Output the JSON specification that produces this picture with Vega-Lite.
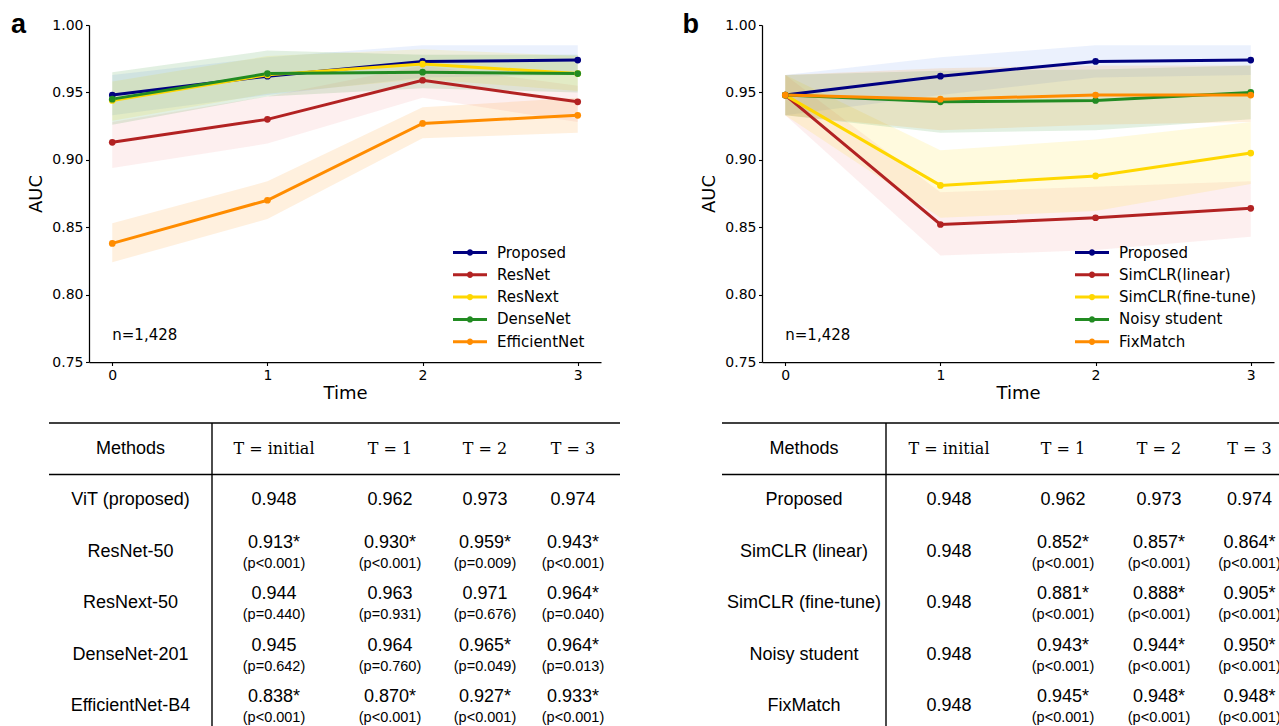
{
  "$schema": "https://vega.github.io/schema/vega-lite/v6.json",
  "padding": {"left": 0, "top": 11, "right": 0, "bottom": 0},
  "config": {
    "view": {"stroke": null},
    "font": "Liberation Sans",
    "text": {"color": "black"},
    "axis": {"labelFont": "DejaVu Sans", "labelFontSize": 14, "labelColor": "black", "titleFont": "DejaVu Sans", "titleFontSize": 18, "titleFontWeight": "normal", "titleColor": "black", "domainColor": "black", "tickColor": "black", "grid": false, "tickSize": 3.5, "domainWidth": 1.25, "tickWidth": 1.1, "labelPadding": 2.5}
  },
  "datasets": {
    "pa": [
      {"m": "Proposed", "t": 0, "auc": 0.948, "lo": 0.933, "hi": 0.963},
      {"m": "Proposed", "t": 1, "auc": 0.962, "lo": 0.948, "hi": 0.976},
      {"m": "Proposed", "t": 2, "auc": 0.973, "lo": 0.961, "hi": 0.985},
      {"m": "Proposed", "t": 3, "auc": 0.974, "lo": 0.963, "hi": 0.985},
      {"m": "ResNet", "t": 0, "auc": 0.913, "lo": 0.894, "hi": 0.928},
      {"m": "ResNet", "t": 1, "auc": 0.930, "lo": 0.912, "hi": 0.947},
      {"m": "ResNet", "t": 2, "auc": 0.959, "lo": 0.946, "hi": 0.970},
      {"m": "ResNet", "t": 3, "auc": 0.943, "lo": 0.928, "hi": 0.955},
      {"m": "ResNext", "t": 0, "auc": 0.944, "lo": 0.929, "hi": 0.958},
      {"m": "ResNext", "t": 1, "auc": 0.963, "lo": 0.949, "hi": 0.977},
      {"m": "ResNext", "t": 2, "auc": 0.971, "lo": 0.960, "hi": 0.982},
      {"m": "ResNext", "t": 3, "auc": 0.964, "lo": 0.951, "hi": 0.977},
      {"m": "DenseNet", "t": 0, "auc": 0.945, "lo": 0.926, "hi": 0.965},
      {"m": "DenseNet", "t": 1, "auc": 0.964, "lo": 0.947, "hi": 0.981},
      {"m": "DenseNet", "t": 2, "auc": 0.965, "lo": 0.953, "hi": 0.978},
      {"m": "DenseNet", "t": 3, "auc": 0.964, "lo": 0.950, "hi": 0.978},
      {"m": "EfficientNet", "t": 0, "auc": 0.838, "lo": 0.824, "hi": 0.853},
      {"m": "EfficientNet", "t": 1, "auc": 0.870, "lo": 0.856, "hi": 0.884},
      {"m": "EfficientNet", "t": 2, "auc": 0.927, "lo": 0.916, "hi": 0.939},
      {"m": "EfficientNet", "t": 3, "auc": 0.933, "lo": 0.920, "hi": 0.946}
    ],
    "pb": [
      {"m": "Proposed", "t": 0, "auc": 0.948, "lo": 0.933, "hi": 0.963},
      {"m": "Proposed", "t": 1, "auc": 0.962, "lo": 0.948, "hi": 0.976},
      {"m": "Proposed", "t": 2, "auc": 0.973, "lo": 0.961, "hi": 0.985},
      {"m": "Proposed", "t": 3, "auc": 0.974, "lo": 0.963, "hi": 0.985},
      {"m": "SimCLR(linear)", "t": 0, "auc": 0.948, "lo": 0.933, "hi": 0.963},
      {"m": "SimCLR(linear)", "t": 1, "auc": 0.852, "lo": 0.829, "hi": 0.876},
      {"m": "SimCLR(linear)", "t": 2, "auc": 0.857, "lo": 0.833, "hi": 0.880},
      {"m": "SimCLR(linear)", "t": 3, "auc": 0.864, "lo": 0.843, "hi": 0.884},
      {"m": "SimCLR(fine-tune)", "t": 0, "auc": 0.948, "lo": 0.933, "hi": 0.963},
      {"m": "SimCLR(fine-tune)", "t": 1, "auc": 0.881, "lo": 0.857, "hi": 0.907},
      {"m": "SimCLR(fine-tune)", "t": 2, "auc": 0.888, "lo": 0.862, "hi": 0.915},
      {"m": "SimCLR(fine-tune)", "t": 3, "auc": 0.905, "lo": 0.882, "hi": 0.928},
      {"m": "Noisy student", "t": 0, "auc": 0.948, "lo": 0.933, "hi": 0.963},
      {"m": "Noisy student", "t": 1, "auc": 0.943, "lo": 0.920, "hi": 0.966},
      {"m": "Noisy student", "t": 2, "auc": 0.944, "lo": 0.922, "hi": 0.967},
      {"m": "Noisy student", "t": 3, "auc": 0.950, "lo": 0.930, "hi": 0.970},
      {"m": "FixMatch", "t": 0, "auc": 0.948, "lo": 0.933, "hi": 0.963},
      {"m": "FixMatch", "t": 1, "auc": 0.945, "lo": 0.922, "hi": 0.968},
      {"m": "FixMatch", "t": 2, "auc": 0.948, "lo": 0.926, "hi": 0.970},
      {"m": "FixMatch", "t": 3, "auc": 0.948, "lo": 0.928, "hi": 0.970}
    ],
    "ta": [
      {"r": "Methods", "c": "T = initial", "v": "T = initial", "p": ""},
      {"r": "Methods", "c": "T = 1", "v": "T = 1", "p": ""},
      {"r": "Methods", "c": "T = 2", "v": "T = 2", "p": ""},
      {"r": "Methods", "c": "T = 3", "v": "T = 3", "p": ""},
      {"r": "ViT (proposed)", "c": "T = initial", "v": "0.948", "p": ""},
      {"r": "ViT (proposed)", "c": "T = 1", "v": "0.962", "p": ""},
      {"r": "ViT (proposed)", "c": "T = 2", "v": "0.973", "p": ""},
      {"r": "ViT (proposed)", "c": "T = 3", "v": "0.974", "p": ""},
      {"r": "ResNet-50", "c": "T = initial", "v": "0.913*", "p": "(p<0.001)"},
      {"r": "ResNet-50", "c": "T = 1", "v": "0.930*", "p": "(p<0.001)"},
      {"r": "ResNet-50", "c": "T = 2", "v": "0.959*", "p": "(p=0.009)"},
      {"r": "ResNet-50", "c": "T = 3", "v": "0.943*", "p": "(p<0.001)"},
      {"r": "ResNext-50", "c": "T = initial", "v": "0.944", "p": "(p=0.440)"},
      {"r": "ResNext-50", "c": "T = 1", "v": "0.963", "p": "(p=0.931)"},
      {"r": "ResNext-50", "c": "T = 2", "v": "0.971", "p": "(p=0.676)"},
      {"r": "ResNext-50", "c": "T = 3", "v": "0.964*", "p": "(p=0.040)"},
      {"r": "DenseNet-201", "c": "T = initial", "v": "0.945", "p": "(p=0.642)"},
      {"r": "DenseNet-201", "c": "T = 1", "v": "0.964", "p": "(p=0.760)"},
      {"r": "DenseNet-201", "c": "T = 2", "v": "0.965*", "p": "(p=0.049)"},
      {"r": "DenseNet-201", "c": "T = 3", "v": "0.964*", "p": "(p=0.013)"},
      {"r": "EfficientNet-B4", "c": "T = initial", "v": "0.838*", "p": "(p<0.001)"},
      {"r": "EfficientNet-B4", "c": "T = 1", "v": "0.870*", "p": "(p<0.001)"},
      {"r": "EfficientNet-B4", "c": "T = 2", "v": "0.927*", "p": "(p<0.001)"},
      {"r": "EfficientNet-B4", "c": "T = 3", "v": "0.933*", "p": "(p<0.001)"}
    ],
    "tb": [
      {"r": "Methods", "c": "T = initial", "v": "T = initial", "p": ""},
      {"r": "Methods", "c": "T = 1", "v": "T = 1", "p": ""},
      {"r": "Methods", "c": "T = 2", "v": "T = 2", "p": ""},
      {"r": "Methods", "c": "T = 3", "v": "T = 3", "p": ""},
      {"r": "Proposed", "c": "T = initial", "v": "0.948", "p": ""},
      {"r": "Proposed", "c": "T = 1", "v": "0.962", "p": ""},
      {"r": "Proposed", "c": "T = 2", "v": "0.973", "p": ""},
      {"r": "Proposed", "c": "T = 3", "v": "0.974", "p": ""},
      {"r": "SimCLR (linear)", "c": "T = initial", "v": "0.948", "p": ""},
      {"r": "SimCLR (linear)", "c": "T = 1", "v": "0.852*", "p": "(p<0.001)"},
      {"r": "SimCLR (linear)", "c": "T = 2", "v": "0.857*", "p": "(p<0.001)"},
      {"r": "SimCLR (linear)", "c": "T = 3", "v": "0.864*", "p": "(p<0.001)"},
      {"r": "SimCLR (fine-tune)", "c": "T = initial", "v": "0.948", "p": ""},
      {"r": "SimCLR (fine-tune)", "c": "T = 1", "v": "0.881*", "p": "(p<0.001)"},
      {"r": "SimCLR (fine-tune)", "c": "T = 2", "v": "0.888*", "p": "(p<0.001)"},
      {"r": "SimCLR (fine-tune)", "c": "T = 3", "v": "0.905*", "p": "(p<0.001)"},
      {"r": "Noisy student", "c": "T = initial", "v": "0.948", "p": ""},
      {"r": "Noisy student", "c": "T = 1", "v": "0.943*", "p": "(p<0.001)"},
      {"r": "Noisy student", "c": "T = 2", "v": "0.944*", "p": "(p<0.001)"},
      {"r": "Noisy student", "c": "T = 3", "v": "0.950*", "p": "(p<0.001)"},
      {"r": "FixMatch", "c": "T = initial", "v": "0.948", "p": ""},
      {"r": "FixMatch", "c": "T = 1", "v": "0.945*", "p": "(p<0.001)"},
      {"r": "FixMatch", "c": "T = 2", "v": "0.948*", "p": "(p<0.001)"},
      {"r": "FixMatch", "c": "T = 3", "v": "0.948*", "p": "(p<0.001)"}
    ]
  },
  "vconcat": [
    {
      "hconcat": [
        {"width": 10, "height": 10, "data": {"values": [{}]}, "mark": {"type": "text", "text": ""}},
        {
          "hconcat": [
            {
              "width": 512, "height": 337,
              "data": {"name": "pa"},
              "layer": [
                {"mark": {"type": "area", "opacity": 0.13},
                 "encoding": {
                   "x": {"field": "t", "type": "quantitative", "scale": {"domain": [-0.15, 3.15], "nice": false, "zero": false}, "axis": {"values": [0, 1, 2, 3], "format": "d", "titlePadding": 2}, "title": "Time"},
                   "y": {"field": "lo", "type": "quantitative", "scale": {"domain": [0.75, 1.0], "nice": false, "zero": false}, "axis": {"values": [0.75, 0.8, 0.85, 0.9, 0.95, 1.0], "format": ".2f", "titlePadding": 6}, "title": "AUC"},
                   "y2": {"field": "hi"},
                   "fill": {"field": "m", "type": "nominal", "scale": {"domain": ["EfficientNet", "DenseNet", "ResNext", "ResNet", "Proposed"], "range": ["#ff8c00", "#228b22", "#ffd700", "#f08080", "#6495ed"]}, "legend": null}
                 }},
                {"mark": {"type": "line", "strokeWidth": 3, "point": {"filled": true, "size": 45, "opacity": 1}},
                 "encoding": {
                   "x": {"field": "t", "type": "quantitative", "title": "Time"},
                   "y": {"field": "auc", "type": "quantitative", "title": "AUC"},
                   "color": {"field": "m", "type": "nominal", "scale": {"domain": ["Proposed", "ResNet", "ResNext", "DenseNet", "EfficientNet"], "range": ["#000080", "#b22222", "#ffd700", "#228b22", "#ff8c00"]},
                     "legend": {"orient": "none", "legendX": 371, "legendY": 217.5, "title": null, "symbolType": "M-2,0H2M-0.2,0A0.2,0.2 0 1,1 0.2,0A0.2,0.2 0 1,1 -0.2,0", "symbolSize": 289, "symbolStrokeWidth": 3, "labelFont": "DejaVu Sans", "labelFontSize": 15, "labelColor": "black", "labelOffset": 17, "rowPadding": 4.3, "padding": 0}}
                 }},
                {"data": {"values": [{"s": "n=1,428"}]},
                 "mark": {"type": "text", "align": "left", "baseline": "alphabetic", "font": "DejaVu Sans", "fontSize": 15},
                 "encoding": {"x": {"datum": 0}, "y": {"datum": 0.766}, "text": {"field": "s"}}},
                {"data": {"values": [{"s": "a"}]},
                 "mark": {"type": "text", "align": "left", "baseline": "alphabetic", "fontSize": 27, "fontWeight": "bold"},
                 "encoding": {"x": {"datum": -0.653}, "y": {"datum": 0.994}, "text": {"field": "s"}}}
              ]
            },
            {
              "width": 512, "height": 337,
              "data": {"name": "pb"},
              "layer": [
                {"mark": {"type": "area", "opacity": 0.13},
                 "encoding": {
                   "x": {"field": "t", "type": "quantitative", "scale": {"domain": [-0.15, 3.15], "nice": false, "zero": false}, "axis": {"values": [0, 1, 2, 3], "format": "d", "titlePadding": 2}, "title": "Time"},
                   "y": {"field": "lo", "type": "quantitative", "scale": {"domain": [0.75, 1.0], "nice": false, "zero": false}, "axis": {"values": [0.75, 0.8, 0.85, 0.9, 0.95, 1.0], "format": ".2f", "titlePadding": 6}, "title": "AUC"},
                   "y2": {"field": "hi"},
                   "fill": {"field": "m", "type": "nominal", "scale": {"domain": ["FixMatch", "Noisy student", "SimCLR(fine-tune)", "SimCLR(linear)", "Proposed"], "range": ["#ff8c00", "#228b22", "#ffd700", "#f08080", "#6495ed"]}, "legend": null}
                 }},
                {"mark": {"type": "line", "strokeWidth": 3, "point": {"filled": true, "size": 45, "opacity": 1}},
                 "encoding": {
                   "x": {"field": "t", "type": "quantitative", "title": "Time"},
                   "y": {"field": "auc", "type": "quantitative", "title": "AUC"},
                   "color": {"field": "m", "type": "nominal", "scale": {"domain": ["Proposed", "SimCLR(linear)", "SimCLR(fine-tune)", "Noisy student", "FixMatch"], "range": ["#000080", "#b22222", "#ffd700", "#228b22", "#ff8c00"]},
                     "legend": {"orient": "none", "legendX": 320, "legendY": 217.5, "title": null, "symbolType": "M-2,0H2M-0.2,0A0.2,0.2 0 1,1 0.2,0A0.2,0.2 0 1,1 -0.2,0", "symbolSize": 289, "symbolStrokeWidth": 3, "labelFont": "DejaVu Sans", "labelFontSize": 15, "labelColor": "black", "labelOffset": 17, "rowPadding": 4.3, "padding": 0}}
                 }},
                {"data": {"values": [{"s": "n=1,428"}]},
                 "mark": {"type": "text", "align": "left", "baseline": "alphabetic", "font": "DejaVu Sans", "fontSize": 15},
                 "encoding": {"x": {"datum": 0}, "y": {"datum": 0.766}, "text": {"field": "s"}}},
                {"data": {"values": [{"s": "b"}]},
                 "mark": {"type": "text", "align": "left", "baseline": "alphabetic", "fontSize": 27, "fontWeight": "bold"},
                 "encoding": {"x": {"datum": -0.662}, "y": {"datum": 0.994}, "text": {"field": "s"}}}
              ]
            }
          ],
          "spacing": 81,
          "resolve": {"scale": {"color": "independent", "fill": "independent"}}
        }
      ],
      "spacing": 0,
      "resolve": {"scale": {"color": "independent", "fill": "independent"}}
    },
    {
      "hconcat": [
        {"width": 49, "height": 10, "data": {"values": [{}]}, "mark": {"type": "text", "text": ""}},
        {
          "width": 163, "height": 303, "data": {"name": "ta"},
          "layer": [
            {"data": {"values": [{"k": 1}]}, "mark": {"type": "rule", "color": "black", "strokeWidth": 1.4}, "encoding": {"y": {"datum": "Methods", "type": "nominal", "bandPosition": 0, "scale": {"domain": ["Methods", "ViT (proposed)", "ResNet-50", "ResNext-50", "DenseNet-201", "EfficientNet-B4"], "range": [0, 309], "paddingInner": 0, "paddingOuter": 0}, "axis": null}}},
            {"data": {"values": [{"k": 1}]}, "mark": {"type": "rule", "color": "black", "strokeWidth": 1.4}, "encoding": {"y": {"datum": "Methods", "type": "nominal", "bandPosition": 1, "axis": null}}},
            {"transform": [{"filter": "datum.c == 'T = initial'"}], "mark": {"type": "text", "fontSize": 18}, "encoding": {"y": {"field": "r", "type": "nominal", "axis": null}, "text": {"field": "r"}}}
          ]
        },
        {
          "width": 124, "height": 303, "data": {"name": "ta"},
          "layer": [
            {"data": {"values": [{"k": 1}]}, "mark": {"type": "rule", "color": "black", "strokeWidth": 1.4}, "encoding": {"y": {"datum": "Methods", "type": "nominal", "bandPosition": 0, "scale": {"domain": ["Methods", "ViT (proposed)", "ResNet-50", "ResNext-50", "DenseNet-201", "EfficientNet-B4"], "range": [0, 309], "paddingInner": 0, "paddingOuter": 0}, "axis": null}}},
            {"data": {"values": [{"k": 1}]}, "mark": {"type": "rule", "color": "black", "strokeWidth": 1.4}, "encoding": {"y": {"datum": "Methods", "type": "nominal", "bandPosition": 1, "axis": null}}},
            {"data": {"values": [{"k": 1}]}, "mark": {"type": "rule", "color": "black", "strokeWidth": 1.4}, "encoding": {"x": {"datum": "T = initial", "type": "nominal", "bandPosition": 0, "scale": {"type": "band", "paddingInner": 0, "paddingOuter": 0}, "axis": null}}},
            {"transform": [{"filter": "datum.c == 'T = initial' && datum.r == 'Methods'"}], "mark": {"type": "text", "font": "DejaVu Serif", "fontSize": 16}, "encoding": {"y": {"field": "r", "type": "nominal", "axis": null}, "text": {"field": "v"}}},
            {"transform": [{"filter": "datum.c == 'T = initial' && datum.r != 'Methods' && datum.p == ''"}], "mark": {"type": "text", "fontSize": 18}, "encoding": {"y": {"field": "r", "type": "nominal", "axis": null}, "text": {"field": "v"}}},
            {"transform": [{"filter": "datum.c == 'T = initial' && datum.p != ''"}], "mark": {"type": "text", "fontSize": 18, "dy": -9}, "encoding": {"y": {"field": "r", "type": "nominal", "axis": null}, "text": {"field": "v"}}},
            {"transform": [{"filter": "datum.c == 'T = initial' && datum.p != ''"}], "mark": {"type": "text", "fontSize": 14.5, "dy": 12}, "encoding": {"y": {"field": "r", "type": "nominal", "axis": null}, "text": {"field": "p"}}}
          ]
        },
        {
          "width": 108, "height": 303, "data": {"name": "ta"},
          "layer": [
            {"data": {"values": [{"k": 1}]}, "mark": {"type": "rule", "color": "black", "strokeWidth": 1.4}, "encoding": {"y": {"datum": "Methods", "type": "nominal", "bandPosition": 0, "scale": {"domain": ["Methods", "ViT (proposed)", "ResNet-50", "ResNext-50", "DenseNet-201", "EfficientNet-B4"], "range": [0, 309], "paddingInner": 0, "paddingOuter": 0}, "axis": null}}},
            {"data": {"values": [{"k": 1}]}, "mark": {"type": "rule", "color": "black", "strokeWidth": 1.4}, "encoding": {"y": {"datum": "Methods", "type": "nominal", "bandPosition": 1, "axis": null}}},
            {"transform": [{"filter": "datum.c == 'T = 1' && datum.r == 'Methods'"}], "mark": {"type": "text", "font": "DejaVu Serif", "fontSize": 16}, "encoding": {"y": {"field": "r", "type": "nominal", "axis": null}, "text": {"field": "v"}}},
            {"transform": [{"filter": "datum.c == 'T = 1' && datum.r != 'Methods' && datum.p == ''"}], "mark": {"type": "text", "fontSize": 18}, "encoding": {"y": {"field": "r", "type": "nominal", "axis": null}, "text": {"field": "v"}}},
            {"transform": [{"filter": "datum.c == 'T = 1' && datum.p != ''"}], "mark": {"type": "text", "fontSize": 18, "dy": -9}, "encoding": {"y": {"field": "r", "type": "nominal", "axis": null}, "text": {"field": "v"}}},
            {"transform": [{"filter": "datum.c == 'T = 1' && datum.p != ''"}], "mark": {"type": "text", "fontSize": 14.5, "dy": 12}, "encoding": {"y": {"field": "r", "type": "nominal", "axis": null}, "text": {"field": "p"}}}
          ]
        },
        {
          "width": 82, "height": 303, "data": {"name": "ta"},
          "layer": [
            {"data": {"values": [{"k": 1}]}, "mark": {"type": "rule", "color": "black", "strokeWidth": 1.4}, "encoding": {"y": {"datum": "Methods", "type": "nominal", "bandPosition": 0, "scale": {"domain": ["Methods", "ViT (proposed)", "ResNet-50", "ResNext-50", "DenseNet-201", "EfficientNet-B4"], "range": [0, 309], "paddingInner": 0, "paddingOuter": 0}, "axis": null}}},
            {"data": {"values": [{"k": 1}]}, "mark": {"type": "rule", "color": "black", "strokeWidth": 1.4}, "encoding": {"y": {"datum": "Methods", "type": "nominal", "bandPosition": 1, "axis": null}}},
            {"transform": [{"filter": "datum.c == 'T = 2' && datum.r == 'Methods'"}], "mark": {"type": "text", "font": "DejaVu Serif", "fontSize": 16}, "encoding": {"y": {"field": "r", "type": "nominal", "axis": null}, "text": {"field": "v"}}},
            {"transform": [{"filter": "datum.c == 'T = 2' && datum.r != 'Methods' && datum.p == ''"}], "mark": {"type": "text", "fontSize": 18}, "encoding": {"y": {"field": "r", "type": "nominal", "axis": null}, "text": {"field": "v"}}},
            {"transform": [{"filter": "datum.c == 'T = 2' && datum.p != ''"}], "mark": {"type": "text", "fontSize": 18, "dy": -9}, "encoding": {"y": {"field": "r", "type": "nominal", "axis": null}, "text": {"field": "v"}}},
            {"transform": [{"filter": "datum.c == 'T = 2' && datum.p != ''"}], "mark": {"type": "text", "fontSize": 14.5, "dy": 12}, "encoding": {"y": {"field": "r", "type": "nominal", "axis": null}, "text": {"field": "p"}}}
          ]
        },
        {
          "width": 94, "height": 303, "data": {"name": "ta"},
          "layer": [
            {"data": {"values": [{"k": 1}]}, "mark": {"type": "rule", "color": "black", "strokeWidth": 1.4}, "encoding": {"y": {"datum": "Methods", "type": "nominal", "bandPosition": 0, "scale": {"domain": ["Methods", "ViT (proposed)", "ResNet-50", "ResNext-50", "DenseNet-201", "EfficientNet-B4"], "range": [0, 309], "paddingInner": 0, "paddingOuter": 0}, "axis": null}}},
            {"data": {"values": [{"k": 1}]}, "mark": {"type": "rule", "color": "black", "strokeWidth": 1.4}, "encoding": {"y": {"datum": "Methods", "type": "nominal", "bandPosition": 1, "axis": null}}},
            {"transform": [{"filter": "datum.c == 'T = 3' && datum.r == 'Methods'"}], "mark": {"type": "text", "font": "DejaVu Serif", "fontSize": 16}, "encoding": {"y": {"field": "r", "type": "nominal", "axis": null}, "text": {"field": "v"}}},
            {"transform": [{"filter": "datum.c == 'T = 3' && datum.r != 'Methods' && datum.p == ''"}], "mark": {"type": "text", "fontSize": 18}, "encoding": {"y": {"field": "r", "type": "nominal", "axis": null}, "text": {"field": "v"}}},
            {"transform": [{"filter": "datum.c == 'T = 3' && datum.p != ''"}], "mark": {"type": "text", "fontSize": 18, "dy": -9}, "encoding": {"y": {"field": "r", "type": "nominal", "axis": null}, "text": {"field": "v"}}},
            {"transform": [{"filter": "datum.c == 'T = 3' && datum.p != ''"}], "mark": {"type": "text", "fontSize": 14.5, "dy": 12}, "encoding": {"y": {"field": "r", "type": "nominal", "axis": null}, "text": {"field": "p"}}}
          ]
        },
        {"width": 102, "height": 10, "data": {"values": [{}]}, "mark": {"type": "text", "text": ""}},
        {
          "width": 164, "height": 303, "data": {"name": "tb"},
          "layer": [
            {"data": {"values": [{"k": 1}]}, "mark": {"type": "rule", "color": "black", "strokeWidth": 1.4}, "encoding": {"y": {"datum": "Methods", "type": "nominal", "bandPosition": 0, "scale": {"domain": ["Methods", "Proposed", "SimCLR (linear)", "SimCLR (fine-tune)", "Noisy student", "FixMatch"], "range": [0, 309], "paddingInner": 0, "paddingOuter": 0}, "axis": null}}},
            {"data": {"values": [{"k": 1}]}, "mark": {"type": "rule", "color": "black", "strokeWidth": 1.4}, "encoding": {"y": {"datum": "Methods", "type": "nominal", "bandPosition": 1, "axis": null}}},
            {"transform": [{"filter": "datum.c == 'T = initial'"}], "mark": {"type": "text", "fontSize": 18}, "encoding": {"y": {"field": "r", "type": "nominal", "axis": null}, "text": {"field": "r"}}}
          ]
        },
        {
          "width": 126, "height": 303, "data": {"name": "tb"},
          "layer": [
            {"data": {"values": [{"k": 1}]}, "mark": {"type": "rule", "color": "black", "strokeWidth": 1.4}, "encoding": {"y": {"datum": "Methods", "type": "nominal", "bandPosition": 0, "scale": {"domain": ["Methods", "Proposed", "SimCLR (linear)", "SimCLR (fine-tune)", "Noisy student", "FixMatch"], "range": [0, 309], "paddingInner": 0, "paddingOuter": 0}, "axis": null}}},
            {"data": {"values": [{"k": 1}]}, "mark": {"type": "rule", "color": "black", "strokeWidth": 1.4}, "encoding": {"y": {"datum": "Methods", "type": "nominal", "bandPosition": 1, "axis": null}}},
            {"data": {"values": [{"k": 1}]}, "mark": {"type": "rule", "color": "black", "strokeWidth": 1.4}, "encoding": {"x": {"datum": "T = initial", "type": "nominal", "bandPosition": 0, "scale": {"type": "band", "paddingInner": 0, "paddingOuter": 0}, "axis": null}}},
            {"transform": [{"filter": "datum.c == 'T = initial' && datum.r == 'Methods'"}], "mark": {"type": "text", "font": "DejaVu Serif", "fontSize": 16}, "encoding": {"y": {"field": "r", "type": "nominal", "axis": null}, "text": {"field": "v"}}},
            {"transform": [{"filter": "datum.c == 'T = initial' && datum.r != 'Methods' && datum.p == ''"}], "mark": {"type": "text", "fontSize": 18}, "encoding": {"y": {"field": "r", "type": "nominal", "axis": null}, "text": {"field": "v"}}},
            {"transform": [{"filter": "datum.c == 'T = initial' && datum.p != ''"}], "mark": {"type": "text", "fontSize": 18, "dy": -9}, "encoding": {"y": {"field": "r", "type": "nominal", "axis": null}, "text": {"field": "v"}}},
            {"transform": [{"filter": "datum.c == 'T = initial' && datum.p != ''"}], "mark": {"type": "text", "fontSize": 14.5, "dy": 12}, "encoding": {"y": {"field": "r", "type": "nominal", "axis": null}, "text": {"field": "p"}}}
          ]
        },
        {
          "width": 102, "height": 303, "data": {"name": "tb"},
          "layer": [
            {"data": {"values": [{"k": 1}]}, "mark": {"type": "rule", "color": "black", "strokeWidth": 1.4}, "encoding": {"y": {"datum": "Methods", "type": "nominal", "bandPosition": 0, "scale": {"domain": ["Methods", "Proposed", "SimCLR (linear)", "SimCLR (fine-tune)", "Noisy student", "FixMatch"], "range": [0, 309], "paddingInner": 0, "paddingOuter": 0}, "axis": null}}},
            {"data": {"values": [{"k": 1}]}, "mark": {"type": "rule", "color": "black", "strokeWidth": 1.4}, "encoding": {"y": {"datum": "Methods", "type": "nominal", "bandPosition": 1, "axis": null}}},
            {"transform": [{"filter": "datum.c == 'T = 1' && datum.r == 'Methods'"}], "mark": {"type": "text", "font": "DejaVu Serif", "fontSize": 16}, "encoding": {"y": {"field": "r", "type": "nominal", "axis": null}, "text": {"field": "v"}}},
            {"transform": [{"filter": "datum.c == 'T = 1' && datum.r != 'Methods' && datum.p == ''"}], "mark": {"type": "text", "fontSize": 18}, "encoding": {"y": {"field": "r", "type": "nominal", "axis": null}, "text": {"field": "v"}}},
            {"transform": [{"filter": "datum.c == 'T = 1' && datum.p != ''"}], "mark": {"type": "text", "fontSize": 18, "dy": -9}, "encoding": {"y": {"field": "r", "type": "nominal", "axis": null}, "text": {"field": "v"}}},
            {"transform": [{"filter": "datum.c == 'T = 1' && datum.p != ''"}], "mark": {"type": "text", "fontSize": 14.5, "dy": 12}, "encoding": {"y": {"field": "r", "type": "nominal", "axis": null}, "text": {"field": "p"}}}
          ]
        },
        {
          "width": 90, "height": 303, "data": {"name": "tb"},
          "layer": [
            {"data": {"values": [{"k": 1}]}, "mark": {"type": "rule", "color": "black", "strokeWidth": 1.4}, "encoding": {"y": {"datum": "Methods", "type": "nominal", "bandPosition": 0, "scale": {"domain": ["Methods", "Proposed", "SimCLR (linear)", "SimCLR (fine-tune)", "Noisy student", "FixMatch"], "range": [0, 309], "paddingInner": 0, "paddingOuter": 0}, "axis": null}}},
            {"data": {"values": [{"k": 1}]}, "mark": {"type": "rule", "color": "black", "strokeWidth": 1.4}, "encoding": {"y": {"datum": "Methods", "type": "nominal", "bandPosition": 1, "axis": null}}},
            {"transform": [{"filter": "datum.c == 'T = 2' && datum.r == 'Methods'"}], "mark": {"type": "text", "font": "DejaVu Serif", "fontSize": 16}, "encoding": {"y": {"field": "r", "type": "nominal", "axis": null}, "text": {"field": "v"}}},
            {"transform": [{"filter": "datum.c == 'T = 2' && datum.r != 'Methods' && datum.p == ''"}], "mark": {"type": "text", "fontSize": 18}, "encoding": {"y": {"field": "r", "type": "nominal", "axis": null}, "text": {"field": "v"}}},
            {"transform": [{"filter": "datum.c == 'T = 2' && datum.p != ''"}], "mark": {"type": "text", "fontSize": 18, "dy": -9}, "encoding": {"y": {"field": "r", "type": "nominal", "axis": null}, "text": {"field": "v"}}},
            {"transform": [{"filter": "datum.c == 'T = 2' && datum.p != ''"}], "mark": {"type": "text", "fontSize": 14.5, "dy": 12}, "encoding": {"y": {"field": "r", "type": "nominal", "axis": null}, "text": {"field": "p"}}}
          ]
        },
        {
          "width": 75, "height": 303, "data": {"name": "tb"},
          "layer": [
            {"data": {"values": [{"k": 1}]}, "mark": {"type": "rule", "color": "black", "strokeWidth": 1.4}, "encoding": {"y": {"datum": "Methods", "type": "nominal", "bandPosition": 0, "scale": {"domain": ["Methods", "Proposed", "SimCLR (linear)", "SimCLR (fine-tune)", "Noisy student", "FixMatch"], "range": [0, 309], "paddingInner": 0, "paddingOuter": 0}, "axis": null}}},
            {"data": {"values": [{"k": 1}]}, "mark": {"type": "rule", "color": "black", "strokeWidth": 1.4}, "encoding": {"y": {"datum": "Methods", "type": "nominal", "bandPosition": 1, "axis": null}}},
            {"transform": [{"filter": "datum.c == 'T = 3' && datum.r == 'Methods'"}], "mark": {"type": "text", "font": "DejaVu Serif", "fontSize": 16, "dx": 8, "clip": true}, "encoding": {"y": {"field": "r", "type": "nominal", "axis": null}, "text": {"field": "v"}}},
            {"transform": [{"filter": "datum.c == 'T = 3' && datum.r != 'Methods' && datum.p == ''"}], "mark": {"type": "text", "fontSize": 18, "dx": 8, "clip": true}, "encoding": {"y": {"field": "r", "type": "nominal", "axis": null}, "text": {"field": "v"}}},
            {"transform": [{"filter": "datum.c == 'T = 3' && datum.p != ''"}], "mark": {"type": "text", "fontSize": 18, "dy": -9, "dx": 8, "clip": true}, "encoding": {"y": {"field": "r", "type": "nominal", "axis": null}, "text": {"field": "v"}}},
            {"transform": [{"filter": "datum.c == 'T = 3' && datum.p != ''"}], "mark": {"type": "text", "fontSize": 14.5, "dy": 12, "dx": 8, "clip": true}, "encoding": {"y": {"field": "r", "type": "nominal", "axis": null}, "text": {"field": "p"}}}
          ]
        }
      ],
      "spacing": 0,
      "bounds": "flush"
    }
  ],
  "spacing": 20
}
